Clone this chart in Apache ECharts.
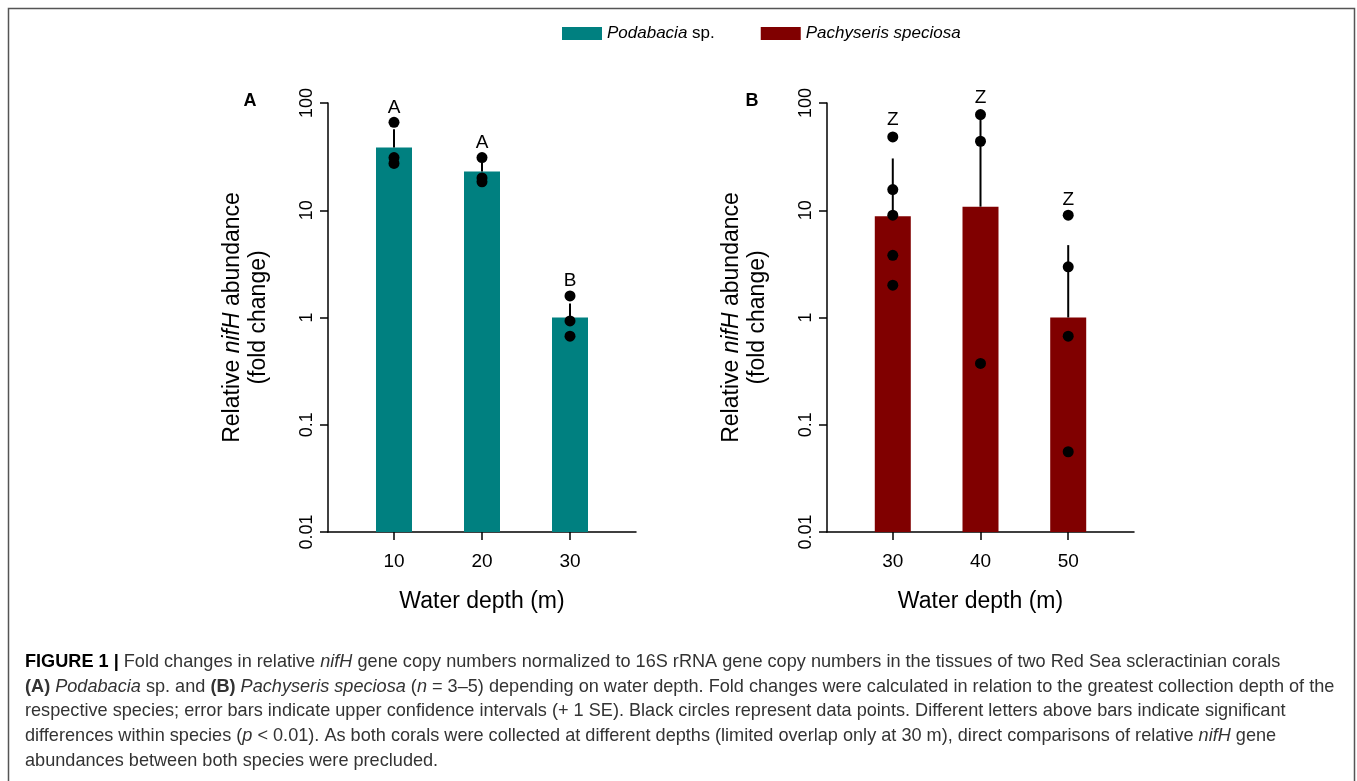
<!DOCTYPE html>
<html>
<head>
<meta charset="utf-8">
<script src="https://cdn.jsdelivr.net/npm/echarts@6/dist/echarts.min.js"></script>
<style>
html,body{margin:0;padding:0;background:#fff;}
#chart{width:1357px;height:781px;}
</style>
</head>
<body>
<div id="chart"></div>
<script>
// ---- Data ----
var depthsA = [10, 20, 30];
var meanA = [38.5, 23, 1.0];
var upperA = [57, 28, 1.35];
var pointsA = [[66, 31, 27.3], [31, 20, 18.4], [1.59, 0.93, 0.67]];
var lettersA = ['A', 'A', 'B'];
var letterPosA = [90, 43, 2.2];

var depthsB = [30, 40, 50];
var meanB = [8.8, 10.8, 1.0];
var upperB = [30.4, 77, 4.73];
var pointsB = [[48.3, 15.6, 9.0, 3.8, 2.0], [78, 44, 0.373], [9.0, 2.97, 0.67, 0.056]];
var lettersB = ['Z', 'Z', 'Z'];
var letterPosB = [70, 111, 12.6];

var yTicks = [0.01, 0.1, 1, 10, 100];

var nameA = 'Podabacia sp.';
var nameB = 'Pachyseris speciosa';
var colorA = '#008080';
var colorB = '#800000';

var FONT = 'Liberation Sans';
var CAPFONT = 'Liberation Sans';
var CAPSIZE = 19;

function pts(depths, points) {
  var out = [];
  depths.forEach(function (d, i) { points[i].forEach(function (v) { out.push([d, v]); }); });
  return out;
}
function pairs(depths, vals) { return depths.map(function (d, i) { return [d, vals[i]]; }); }
function triples(depths, a, b) { return depths.map(function (d, i) { return [d, a[i], b[i]]; }); }

function xAxisCfg(idx, min, max, ticks) {
  return {
    type: 'value', gridIndex: idx, min: min, max: max,
    name: 'Water depth (m)', nameLocation: 'middle', nameGap: 58,
    nameTextStyle: { fontSize: 23, fontFamily: FONT, color: '#000' },
    axisLine: { show: true, onZero: false, lineStyle: { color: '#000', width: 1.5 } },
    axisTick: { show: true, length: 8, lineStyle: { color: '#000', width: 1.5 }, customValues: ticks },
    axisLabel: { fontSize: 19, fontFamily: FONT, color: '#000', margin: 20, customValues: ticks },
    splitLine: { show: false }
  };
}
function yAxisCfg(idx) {
  return {
    type: 'log', logBase: 10, gridIndex: idx, min: 0.01, max: 100, startValue: 0.01,
    name: 'Relative {i|nifH} abundance\n(fold change)', nameLocation: 'middle', nameGap: 56,
    nameTextStyle: {
      fontSize: 23, fontFamily: FONT, color: '#000', lineHeight: 26,
      rich: { i: { fontStyle: 'italic', fontSize: 23, fontFamily: FONT, color: '#000', lineHeight: 26 } }
    },
    axisLine: { show: true, lineStyle: { color: '#000', width: 1.5 } },
    axisTick: { show: true, length: 8, lineStyle: { color: '#000', width: 1.5 } },
    minorTick: { show: false },
    axisLabel: {
      rotate: 90, fontSize: 18, fontFamily: FONT, color: '#000', margin: 12,
      formatter: function (v) {
        var t = yTicks.filter(function (k) { return Math.abs(k - v) / k < 1e-6; });
        return t.length ? String(t[0]) : '';
      }
    },
    splitLine: { show: false }
  };
}

function errorSeries(name, xi, yi, data) {
  return {
    type: 'custom', name: name + ' error', xAxisIndex: xi, yAxisIndex: yi, z: 3,
    clip: false,
    data: data,
    encode: { x: 0, y: [1, 2] },
    renderItem: function (params, api) {
      var p0 = api.coord([api.value(0), api.value(1)]);
      var p1 = api.coord([api.value(0), api.value(2)]);
      return { type: 'line', shape: { x1: p0[0], y1: p0[1], x2: p1[0], y2: p1[1] },
        style: { stroke: '#000', lineWidth: 2 } };
    }
  };
}
function pointSeries(name, xi, yi, data) {
  return { type: 'scatter', name: name + ' points', xAxisIndex: xi, yAxisIndex: yi, z: 4,
    symbolSize: 11, itemStyle: { color: '#000', opacity: 1 }, clip: false, data: data, silent: true };
}
function letterSeries(name, xi, yi, depths, pos, letters) {
  return { type: 'scatter', name: name + ' letters', xAxisIndex: xi, yAxisIndex: yi, z: 5,
    symbolSize: 1, itemStyle: { color: 'rgba(0,0,0,0)' }, clip: false,
    data: depths.map(function (d, i) { return [d, pos[i], letters[i]]; }),
    label: { show: true, position: 'inside', formatter: function (p) { return p.data[2]; },
      fontSize: 19, fontFamily: FONT, color: '#000', opacity: 1 } };
}

var capStyleRich = {
  b: { fontWeight: 'bold', fill: '#000', fontSize: CAPSIZE, fontFamily: CAPFONT },
  i: { fontStyle: 'italic', fill: '#333', fontSize: CAPSIZE, fontFamily: CAPFONT },
  bi: { fontWeight: 'bold', fill: '#333', fontSize: CAPSIZE, fontFamily: CAPFONT }
};
var captionLines = [
  '{b|FIGURE 1 |} Fold changes in relative {i|nifH} gene copy numbers normalized to 16S rRNA gene copy numbers in the tissues of two Red Sea scleractinian corals',
  '{bi|(A)} {i|Podabacia} sp. and {bi|(B)} {i|Pachyseris speciosa} ({i|n} = 3–5) depending on water depth. Fold changes were calculated in relation to the greatest collection depth of the',
  'respective species; error bars indicate upper confidence intervals (+ 1 SE). Black circles represent data points. Different letters above bars indicate significant',
  'differences within species ({i|p} < 0.01). As both corals were collected at different depths (limited overlap only at 30 m), direct comparisons of relative {i|nifH} gene',
  'abundances between both species were precluded.'
];
var captionY = [662, 687, 711, 736, 761];
var captionScaleX = 0.954;

var graphics = [
  { type: 'rect', shape: { x: 8.5, y: 8.5, width: 1346, height: 820 }, style: { fill: 'none', stroke: '#555', lineWidth: 1.5 }, silent: true },
  { type: 'text', x: 250, y: 101, style: { text: 'A', font: 'bold 18px ' + FONT, fill: '#000', textAlign: 'center', textVerticalAlign: 'middle' } },
  { type: 'text', x: 752, y: 101, style: { text: 'B', font: 'bold 18px ' + FONT, fill: '#000', textAlign: 'center', textVerticalAlign: 'middle' } }
];
captionLines.forEach(function (t, i) {
  graphics.push({ type: 'text', x: 25, y: captionY[i], scaleX: captionScaleX, silent: true,
    style: { text: t, fontSize: CAPSIZE, fontFamily: CAPFONT, fill: '#333', textAlign: 'left', textVerticalAlign: 'middle', rich: capStyleRich } });
});

var chart = echarts.init(document.getElementById('chart'), null, { renderer: 'canvas' });
chart.setOption({
  animation: false,
  backgroundColor: '#fff',
  textStyle: { fontFamily: FONT },
  legend: {
    top: 20, left: 557, itemWidth: 40, itemHeight: 13, itemGap: 46,
    data: [nameA, nameB],
    icon: 'rect',
    textStyle: { fontSize: 17, fontFamily: FONT, color: '#000', rich: { i: { fontStyle: 'italic', fontSize: 17, fontFamily: FONT, color: '#000' } } },
    formatter: function (n) { return n === nameA ? '{i|Podabacia} sp.' : '{i|Pachyseris speciosa}'; }
  },
  grid: [
    { left: 328, top: 103, width: 308, height: 429, outerBoundsMode: 'none', containLabel: false },
    { left: 827, top: 103, width: 307, height: 429, outerBoundsMode: 'none', containLabel: false }
  ],
  xAxis: [xAxisCfg(0, 2.5, 37.5, depthsA), xAxisCfg(1, 22.5, 57.5, depthsB)],
  yAxis: [yAxisCfg(0), yAxisCfg(1)],
  series: [
    { type: 'bar', name: nameA, xAxisIndex: 0, yAxisIndex: 0, barWidth: 36, itemStyle: { color: colorA }, data: pairs(depthsA, meanA), z: 2 },
    { type: 'bar', name: nameB, xAxisIndex: 1, yAxisIndex: 1, barWidth: 36, itemStyle: { color: colorB }, data: pairs(depthsB, meanB), z: 2 },
    errorSeries(nameA, 0, 0, triples(depthsA, meanA, upperA)),
    errorSeries(nameB, 1, 1, triples(depthsB, meanB, upperB)),
    pointSeries(nameA, 0, 0, pts(depthsA, pointsA)),
    pointSeries(nameB, 1, 1, pts(depthsB, pointsB)),
    letterSeries(nameA, 0, 0, depthsA, letterPosA, lettersA),
    letterSeries(nameB, 1, 1, depthsB, letterPosB, lettersB)
  ],
  graphic: graphics
});
</script>
</body>
</html>
